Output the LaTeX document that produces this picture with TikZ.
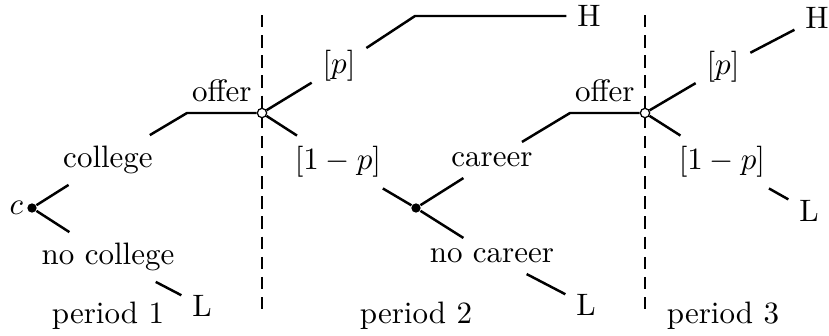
\documentclass[tikz,border=0pt]{standalone}
\begin{document}
\begin{tikzpicture}[
  x=0.3226pt, y=-0.3226pt,
  branch/.style={thick},
  decision/.style={circle, fill, inner sep=0pt, minimum size=3pt},
  chance/.style={circle, draw, thin, fill=white, inner sep=0pt, minimum size=3pt},
  divider/.style={thick, dash pattern=on 4pt off 2.5pt}
]
\useasboundingbox (0,0) rectangle (829,335);
% period dividers
\coordinate (top1) at (262,15);
\coordinate (bot1) at (262,313);
\coordinate (top2) at (645,15);
\coordinate (bot2) at (645,313);
\draw[divider] (top1) -- (bot1);
\draw[divider] (top2) -- (bot2);
% period 1
\node[decision, label={[inner sep=1pt]left:$c$}] (c) at (32,208) {};
\node (college) at (108,160) {college};
\node (nocollege) at (108,257) {no college};
\node (L1) at (202,306) {L};
\coordinate (k1) at (187,113);
\node[chance] (ch1) at (262,113) {};
% period 2
\node (p1) at (339,66) {$[p]$};
\node (q1) at (338,162) {$[1-p]$};
\coordinate (k2) at (415,16);
\node (H1) at (589,16) {H};
\node[decision] (d2) at (416,208) {};
\node (career) at (492,160) {career};
\node (nocareer) at (492,256) {no career};
\node (L2) at (586,305) {L};
\coordinate (k3) at (570,113);
\node[chance] (ch2) at (645,113) {};
% period 3
\node (p2) at (723,67) {$[p]$};
\node (q2) at (722,162) {$[1-p]$};
\node (H2) at (817,18) {H};
\node (L3) at (809,211) {L};
% branches
\draw[branch] (c) -- (college) -- (k1) -- node[midway, above] (offer1) {offer} (ch1);
\draw[branch] (c) -- (nocollege) -- (L1);
\draw[branch] (ch1) -- (p1) -- (k2) -- (H1);
\draw[branch] (ch1) -- (q1) -- (d2);
\draw[branch] (d2) -- (career) -- (k3) -- node[midway, above] (offer2) {offer} (ch2);
\draw[branch] (d2) -- (nocareer) -- (L2);
\draw[branch] (ch2) -- (p2) -- (H2);
\draw[branch] (ch2) -- (q2) -- (L3);
% period names
\node (per1) at (108,316) {period 1};
\node (per2) at (416,316) {period 2};
\node (per3) at (723,316) {period 3};
\end{tikzpicture}
\end{document}
